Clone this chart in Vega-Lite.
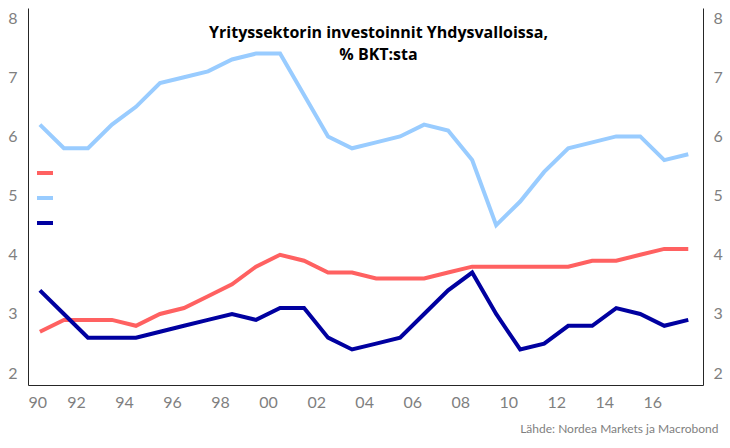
{
  "$schema": "https://vega.github.io/schema/vega-lite/v6.json",
  "width": 675,
  "height": 377,
  "autosize": {"type": "none"},
  "padding": {"left": 28, "top": 8, "right": 27, "bottom": 63},
  "background": "white",
  "config": {"view": {"stroke": null}, "font": "Lato"},
  "title": {
    "text": ["Yrityssektorin investoinnit Yhdysvalloissa,", "% BKT:sta"],
    "anchor": "middle",
    "dx": 13,
    "offset": -55,
    "fontSize": 16,
    "fontWeight": "bold",
    "font": "Open Sans",
    "color": "#000000",
    "lineHeight": 22
  },
  "data": {
    "values": [
      {"date": "1990-07-01", "Henkinen pääoma": 2.7, "Laitteet": 6.2, "Rakennukset": 3.4},
      {"date": "1991-07-01", "Henkinen pääoma": 2.9, "Laitteet": 5.8, "Rakennukset": 3.0},
      {"date": "1992-07-01", "Henkinen pääoma": 2.9, "Laitteet": 5.8, "Rakennukset": 2.6},
      {"date": "1993-07-01", "Henkinen pääoma": 2.9, "Laitteet": 6.2, "Rakennukset": 2.6},
      {"date": "1994-07-01", "Henkinen pääoma": 2.8, "Laitteet": 6.5, "Rakennukset": 2.6},
      {"date": "1995-07-01", "Henkinen pääoma": 3.0, "Laitteet": 6.9, "Rakennukset": 2.7},
      {"date": "1996-07-01", "Henkinen pääoma": 3.1, "Laitteet": 7.0, "Rakennukset": 2.8},
      {"date": "1997-07-01", "Henkinen pääoma": 3.3, "Laitteet": 7.1, "Rakennukset": 2.9},
      {"date": "1998-07-01", "Henkinen pääoma": 3.5, "Laitteet": 7.3, "Rakennukset": 3.0},
      {"date": "1999-07-01", "Henkinen pääoma": 3.8, "Laitteet": 7.4, "Rakennukset": 2.9},
      {"date": "2000-07-01", "Henkinen pääoma": 4.0, "Laitteet": 7.4, "Rakennukset": 3.1},
      {"date": "2001-07-01", "Henkinen pääoma": 3.9, "Laitteet": 6.7, "Rakennukset": 3.1},
      {"date": "2002-07-01", "Henkinen pääoma": 3.7, "Laitteet": 6.0, "Rakennukset": 2.6},
      {"date": "2003-07-01", "Henkinen pääoma": 3.7, "Laitteet": 5.8, "Rakennukset": 2.4},
      {"date": "2004-07-01", "Henkinen pääoma": 3.6, "Laitteet": 5.9, "Rakennukset": 2.5},
      {"date": "2005-07-01", "Henkinen pääoma": 3.6, "Laitteet": 6.0, "Rakennukset": 2.6},
      {"date": "2006-07-01", "Henkinen pääoma": 3.6, "Laitteet": 6.2, "Rakennukset": 3.0},
      {"date": "2007-07-01", "Henkinen pääoma": 3.7, "Laitteet": 6.1, "Rakennukset": 3.4},
      {"date": "2008-07-01", "Henkinen pääoma": 3.8, "Laitteet": 5.6, "Rakennukset": 3.7},
      {"date": "2009-07-01", "Henkinen pääoma": 3.8, "Laitteet": 4.5, "Rakennukset": 3.0},
      {"date": "2010-07-01", "Henkinen pääoma": 3.8, "Laitteet": 4.9, "Rakennukset": 2.4},
      {"date": "2011-07-01", "Henkinen pääoma": 3.8, "Laitteet": 5.4, "Rakennukset": 2.5},
      {"date": "2012-07-01", "Henkinen pääoma": 3.8, "Laitteet": 5.8, "Rakennukset": 2.8},
      {"date": "2013-07-01", "Henkinen pääoma": 3.9, "Laitteet": 5.9, "Rakennukset": 2.8},
      {"date": "2014-07-01", "Henkinen pääoma": 3.9, "Laitteet": 6.0, "Rakennukset": 3.1},
      {"date": "2015-07-01", "Henkinen pääoma": 4.0, "Laitteet": 6.0, "Rakennukset": 3.0},
      {"date": "2016-07-01", "Henkinen pääoma": 4.1, "Laitteet": 5.6, "Rakennukset": 2.8},
      {"date": "2017-07-01", "Henkinen pääoma": 4.1, "Laitteet": 5.7, "Rakennukset": 2.9}
    ]
  },
  "transform": [
    {"fold": ["Henkinen pääoma", "Laitteet", "Rakennukset"], "as": ["sarja", "arvo"]}
  ],
  "encoding": {
    "x": {
      "field": "date",
      "type": "temporal",
      "scale": {
        "type": "utc",
        "domain": [
          {"year": 1990, "month": 1, "date": 1, "utc": true},
          {"year": 2018, "month": 2, "date": 10, "utc": true}
        ]
      },
      "axis": {
        "values": [
          {"year": 1990, "month": 1, "date": 1, "utc": true},
          {"year": 1992, "month": 1, "date": 1, "utc": true},
          {"year": 1994, "month": 1, "date": 1, "utc": true},
          {"year": 1996, "month": 1, "date": 1, "utc": true},
          {"year": 1998, "month": 1, "date": 1, "utc": true},
          {"year": 2000, "month": 1, "date": 1, "utc": true},
          {"year": 2002, "month": 1, "date": 1, "utc": true},
          {"year": 2004, "month": 1, "date": 1, "utc": true},
          {"year": 2006, "month": 1, "date": 1, "utc": true},
          {"year": 2008, "month": 1, "date": 1, "utc": true},
          {"year": 2010, "month": 1, "date": 1, "utc": true},
          {"year": 2012, "month": 1, "date": 1, "utc": true},
          {"year": 2014, "month": 1, "date": 1, "utc": true},
          {"year": 2016, "month": 1, "date": 1, "utc": true}
        ],
        "format": "%y",
        "ticks": false,
        "grid": false,
        "domainColor": "#262626",
        "domainWidth": 1,
        "labelFontSize": 16,
        "labelColor": "#7f7f7f",
        "labelPadding": 9,
        "labelFont": "Lato",
        "title": "Lähde: Nordea Markets ja Macrobond",
        "titleFontSize": 12,
        "titleFontWeight": "normal",
        "titleColor": "#7f7f7f",
        "titleFont": "Lato",
        "titleAnchor": null,
        "titleAlign": "right",
        "titleX": 690,
        "titleY": 43,
        "titleBaseline": "middle"
      }
    },
    "y": {
      "field": "arvo",
      "type": "quantitative",
      "scale": {"domain": [1.8, 8.17], "nice": false, "zero": false}
    },
    "color": {
      "field": "sarja",
      "type": "nominal",
      "scale": {
        "domain": ["Henkinen pääoma", "Laitteet", "Rakennukset"],
        "range": ["#ff6161", "#99ccff", "#0000a0"]
      }
    }
  },
  "layer": [
    {
      "mark": {"type": "line", "strokeWidth": 4},
      "encoding": {
        "y": {
          "field": "arvo",
          "type": "quantitative",
          "axis": {
            "orient": "left",
            "values": [2, 3, 4, 5, 6, 7, 8],
            "ticks": false,
            "grid": false,
            "domainColor": "#262626",
            "labelFontSize": 16,
            "labelColor": "#7f7f7f",
            "labelPadding": 11,
            "labelFont": "Lato",
            "title": null
          }
        },
        "color": {
          "field": "sarja",
          "type": "nominal",
          "legend": {
            "orient": "none",
            "legendX": 7,
            "legendY": 155,
            "title": null,
            "symbolType": "stroke",
            "symbolSize": 256,
            "symbolStrokeWidth": 4,
            "labelColor": "#ffffff",
            "labelFontSize": 12,
            "rowPadding": 7,
            "padding": 0
          }
        }
      }
    },
    {
      "mark": {"type": "line", "strokeWidth": 4, "opacity": 0},
      "encoding": {
        "y": {
          "field": "arvo",
          "type": "quantitative",
          "axis": {
            "orient": "right",
            "values": [2, 3, 4, 5, 6, 7, 8],
            "ticks": false,
            "grid": false,
            "domainColor": "#262626",
            "labelFontSize": 16,
            "labelColor": "#7f7f7f",
            "labelPadding": 10,
            "labelFont": "Lato",
            "title": null
          }
        },
        "color": {"field": "sarja", "type": "nominal", "legend": null}
      }
    }
  ],
  "resolve": {"scale": {"y": "shared"}, "axis": {"y": "independent"}}
}
